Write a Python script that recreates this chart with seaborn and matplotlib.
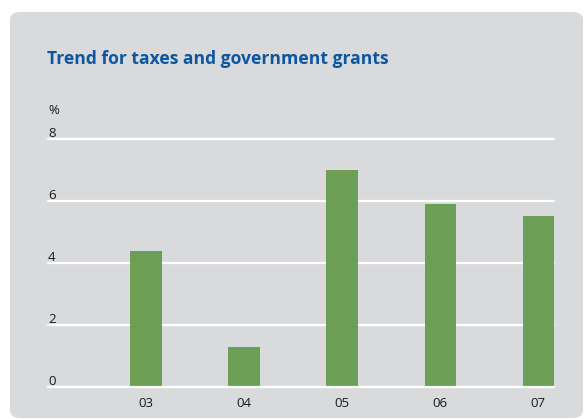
import matplotlib
matplotlib.use("Agg")
import matplotlib.pyplot as plt
from matplotlib.patches import FancyBboxPatch
import matplotlib.transforms as mtransforms
import seaborn as sns
import pandas as pd

years = ["03", "04", "05", "06", "07"]
values = [4.4, 1.3, 7.0, 5.9, 5.5]
y_ticks = [0, 2, 4, 6, 8]
title = "Trend for taxes and government grants"
unit = "%"

W, H = 585, 419
DPI = 100
panel_color = "#d9dadc"
bar_color = "#6a9f55"
title_color = "#0d56a0"
text_color = "#1a1a1a"

sns.set_theme(style="white")
plt.rcParams["font.family"] = ["Open Sans", "DejaVu Sans"]

fig = plt.figure(figsize=(W / DPI, H / DPI), dpi=DPI)
fig.patch.set_facecolor("white")

# rounded grey panel behind the chart
panel = FancyBboxPatch((10 / W, 1 / H), (583 - 10) / W, (407 - 1) / H,
                       boxstyle="round,pad=0,rounding_size=0.018",
                       transform=fig.transFigure, facecolor=panel_color,
                       edgecolor="none", zorder=-5)
fig.patches.append(panel)

ax_left, ax_right = 48 / W, 554 / W
ax_bottom, ax_top = (H - 387) / H, (H - 139) / H
ax = fig.add_axes([ax_left, ax_bottom, ax_right - ax_left, ax_top - ax_bottom])
ax.set_facecolor("none")
ax.set_zorder(2)

df = pd.DataFrame({"year": years, "value": values})
sns.barplot(data=df, x="year", y="value", color=bar_color, saturation=1,
            width=0.32, linewidth=0, edgecolor="none", ax=ax, zorder=3)

ax.set_xlim(-1, 4.16)
ax.set_ylim(0, 8)
for s in ax.spines.values():
    s.set_visible(False)

ax.set_yticks(y_ticks)
ax.yaxis.grid(True, color="white", linewidth=1.6, zorder=1)
ax.set_axisbelow(True)
for gl in ax.yaxis.get_gridlines():
    gl.set_clip_on(False)
# baseline stays visible beneath the bars
ax.axhline(0, color="white", linewidth=1.6, clip_on=False, zorder=4)
ax.tick_params(axis="y", left=False, labelleft=False)
ax.tick_params(axis="x", bottom=False, labelsize=9.5, labelcolor=text_color, pad=1.5)
ax.set_xlabel("")
ax.set_ylabel("")
for b in ax.patches:
    b.set_clip_on(False)

# y labels sit just above each gridline at the left edge
trans = mtransforms.blended_transform_factory(ax.transAxes, ax.transData)
lift = mtransforms.ScaledTranslation(0, 2 / DPI, fig.dpi_scale_trans)
for t in y_ticks:
    ax.text(0, t, str(t), transform=trans + lift, ha="left", va="baseline",
            fontsize=9.5, color=text_color)
ax.text(0, 8, unit, transform=trans + mtransforms.ScaledTranslation(0, 25 / DPI, fig.dpi_scale_trans),
        ha="left", va="baseline", fontsize=9.5, color=text_color)

fig.text(47 / W, (H - 63.5) / H, title, ha="left", va="baseline",
         fontsize=12.6, fontweight="bold", color=title_color)

fig.savefig("out.png", dpi=DPI, facecolor=fig.get_facecolor())
